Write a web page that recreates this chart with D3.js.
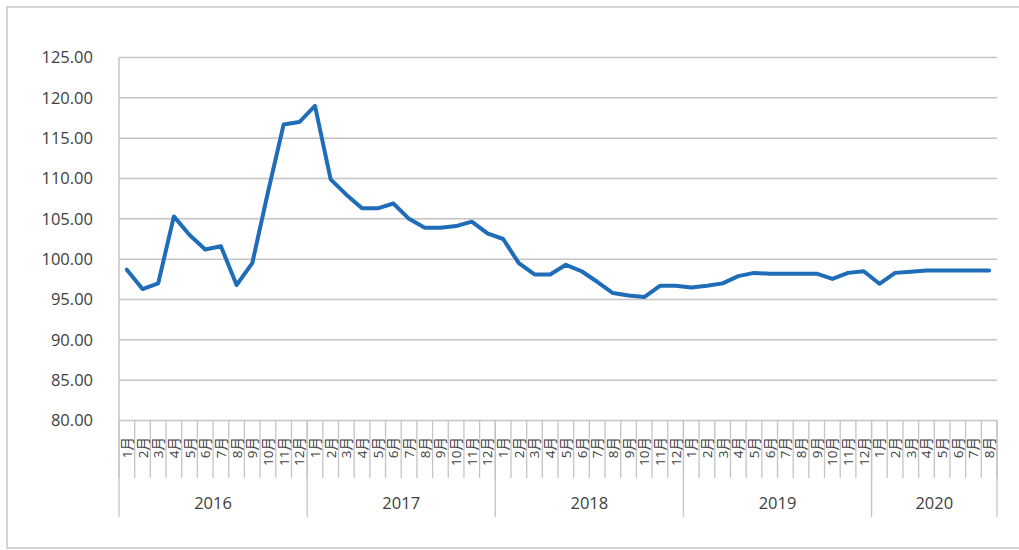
<!DOCTYPE html>
<html><head><meta charset="utf-8">
<script src="https://cdn.jsdelivr.net/npm/d3@7/dist/d3.min.js"></script>
<style>
html,body{margin:0;padding:0;background:#fff;}
svg{display:block;}
text{font-family:"Open Sans","Liberation Sans","Noto Sans CJK SC",sans-serif;fill:#404040;}
</style></head>
<body>
<svg id="c" width="1019" height="550"></svg>
<script>
const years = ["2016", "2017", "2018", "2019", "2020"];
const monthsPerYear = [12, 12, 12, 12, 8];
const monthNames = ["1月","2月","3月","4月","5月","6月","7月","8月","9月","10月","11月","12月"];
const yTicks = [80, 85, 90, 95, 100, 105, 110, 115, 120, 125];
const values2016 = [98.7, 96.3, 97.0, 105.3, 103.0, 101.2, 101.6, 96.8, 99.5, 108.3, 116.7, 117.0];
const values2017 = [119.0, 109.9, 108.0, 106.3, 106.3, 106.9, 105.0, 103.9, 103.9, 104.1, 104.65, 103.2];
const values2018 = [102.5, 99.5, 98.1, 98.1, 99.3, 98.5, 97.2, 95.8, 95.5, 95.3, 96.7, 96.7];
const values2019 = [96.5, 96.7, 97.0, 97.9, 98.3, 98.2, 98.2, 98.2, 98.2, 97.55, 98.3, 98.5];
const values2020 = [96.95, 98.3, 98.45, 98.6, 98.6, 98.6, 98.6, 98.6];
const seriesByYear = [values2016, values2017, values2018, values2019, values2020];

// build table
const data = [];
years.forEach((yr, yi) => {
  for (let m = 0; m < monthsPerYear[yi]; m++) {
    data.push({ key: yr + "-" + (m + 1), year: yr, yi, month: monthNames[m], value: seriesByYear[yi][m] });
  }
});

const svg = d3.select("#c");
const L = 119, R = 997, T = 57.5, B = 420.5;

// outer frame
svg.append("rect").attr("x", 7).attr("y", 7).attr("width", 1040).attr("height", 541)
  .attr("fill", "none").attr("stroke", "#c6c6c6").attr("stroke-width", 1.5);

const x = d3.scaleBand().domain(data.map(d => d.key)).range([L, R]).paddingInner(0).paddingOuter(0);
const y = d3.scaleLinear().domain([80, 125]).range([B, T]);

// gridlines
svg.append("g").selectAll("line").data(yTicks).join("line")
  .attr("x1", L).attr("x2", R)
  .attr("y1", d => y(d)).attr("y2", d => y(d))
  .attr("stroke", "#c4c4c4").attr("stroke-width", 1.5);

// left axis line
svg.append("line").attr("x1", L).attr("x2", L).attr("y1", T).attr("y2", B)
  .attr("stroke", "#c4c4c4").attr("stroke-width", 1.5);

// y labels
const yAxis = d3.axisLeft(y).tickValues(yTicks).tickFormat(d3.format(".2f")).tickSize(0).tickPadding(26);
const gy = svg.append("g").attr("transform", `translate(${L},0)`).call(yAxis);
gy.select(".domain").remove();
gy.selectAll("text").style("font-size", "16.5px").attr("fill", "#3a3a3a")
  .style("font-family", '"Open Sans","Liberation Sans",sans-serif');

// month tick lines (boundaries)
const bounds = data.map(d => x(d.key)).concat([R]);
svg.append("g").selectAll("line").data(bounds).join("line")
  .attr("x1", d => d).attr("x2", d => d)
  .attr("y1", B).attr("y2", 478)
  .attr("stroke", "#c4c4c4").attr("stroke-width", 1.3);

// year separators
const yearStarts = [];
years.forEach((yr, yi) => {
  const first = data.find(d => d.yi === yi);
  const last = data.filter(d => d.yi === yi).slice(-1)[0];
  yearStarts.push({ yr, x0: x(first.key), x1: x(last.key) + x.bandwidth() });
});
const sepXs = yearStarts.map(d => d.x0).concat([R]);
svg.append("g").selectAll("line").data(sepXs).join("line")
  .attr("x1", d => d).attr("x2", d => d)
  .attr("y1", B).attr("y2", 517)
  .attr("stroke", "#c4c4c4").attr("stroke-width", 1.3);

// month labels
svg.append("g").selectAll("text").data(data).join("text")
  .attr("transform", d => `translate(${x(d.key) + x.bandwidth() / 2 + 5},437) rotate(-90)`)
  .attr("text-anchor", "end")
  .style("font-size", "13.5px")
  .attr("fill", "#333333")
  .text(d => d.month);

// year labels
svg.append("g").selectAll("text").data(yearStarts).join("text")
  .attr("x", d => (d.x0 + d.x1) / 2).attr("y", 509)
  .attr("text-anchor", "middle")
  .style("font-size", "16.5px")
  .attr("fill", "#3a3a3a")
  .text(d => d.yr);

// series line
const line = d3.line().x(d => x(d.key) + x.bandwidth() / 2).y(d => y(d.value));
svg.append("path").datum(data).attr("d", line)
  .attr("fill", "none").attr("stroke", "#1f6db8").attr("stroke-width", 4)
  .attr("stroke-linejoin", "round").attr("stroke-linecap", "round");
</script>
</body></html>
